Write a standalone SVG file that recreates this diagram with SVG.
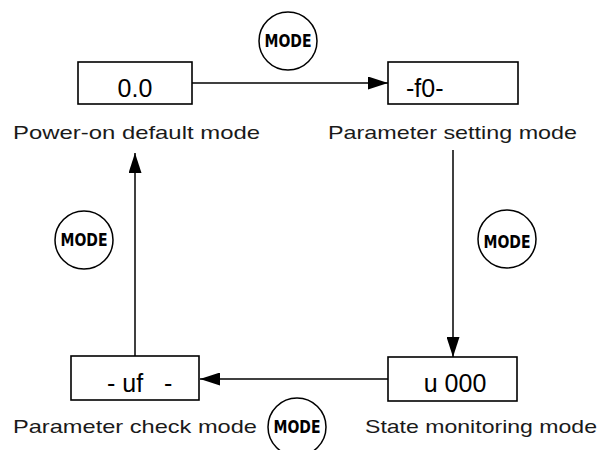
<svg xmlns="http://www.w3.org/2000/svg" width="603" height="450" viewBox="0 0 603 450">
<defs>
<style>
.box{fill:#fff;stroke:#000;stroke-width:1.6}
.disp{font-family:"Liberation Sans",Arial,sans-serif;font-size:25px;fill:#000}
.lbl{font-family:"Liberation Sans",Arial,sans-serif;font-size:19px;fill:#1a1a1a}
.btn{fill:#fff;stroke:#000;stroke-width:1.5}
.btnt{font-family:"DejaVu Sans",sans-serif;font-weight:bold;font-size:17px;fill:#000;text-anchor:middle}
.line{stroke:#000;stroke-width:1.5;fill:none}
</style>
<marker id="ah" viewBox="0 0 20 13" refX="20" refY="6.5" markerWidth="20" markerHeight="13" markerUnits="userSpaceOnUse" orient="auto">
<path d="M0,0 L20,6.5 L0,13 Z" fill="#000"/>
</marker>
</defs>
<g id="connectors">
<line class="line" x1="192" y1="83" x2="388" y2="83" marker-end="url(#ah)"/>
<line class="line" x1="453" y1="150" x2="453" y2="357" marker-end="url(#ah)"/>
<line class="line" x1="388" y1="379" x2="200" y2="379" marker-end="url(#ah)"/>
<line class="line" x1="135" y1="356" x2="135" y2="153" marker-end="url(#ah)"/>
</g>
<g id="node-poweron">
<rect class="box" x="78" y="62" width="114" height="42"/>
<text class="disp" x="135" y="97" text-anchor="middle">0.0</text>
<text class="lbl" x="13" y="139" textLength="247" lengthAdjust="spacingAndGlyphs">Power-on default mode</text>
</g>
<g id="node-setting">
<rect class="box" x="388" y="62" width="130" height="42"/>
<text class="disp" x="406" y="97">-f0-</text>
<text class="lbl" x="328" y="139" textLength="249" lengthAdjust="spacingAndGlyphs">Parameter setting mode</text>
</g>
<g id="node-monitor">
<rect class="box" x="388" y="357" width="129" height="44"/>
<text class="disp" x="455" y="392" text-anchor="middle">u 000</text>
<text class="lbl" x="365" y="433" textLength="232" lengthAdjust="spacingAndGlyphs">State monitoring mode</text>
</g>
<g id="node-check">
<rect class="box" x="71" y="356" width="128" height="44"/>
<text class="disp" x="107" y="392" xml:space="preserve">- uf   -</text>
<text class="lbl" x="13" y="433" textLength="244" lengthAdjust="spacingAndGlyphs">Parameter check mode</text>
</g>
<g id="mode-top">
<circle class="btn" cx="288" cy="41" r="29"/>
<text class="btnt" x="288" y="47" textLength="47" lengthAdjust="spacingAndGlyphs">MODE</text>
</g>
<g id="mode-right">
<circle class="btn" cx="507" cy="239" r="29"/>
<text class="btnt" x="507" y="248" textLength="47" lengthAdjust="spacingAndGlyphs">MODE</text>
</g>
<g id="mode-left">
<circle class="btn" cx="84" cy="240" r="29"/>
<text class="btnt" x="84" y="246" textLength="47" lengthAdjust="spacingAndGlyphs">MODE</text>
</g>
<g id="mode-bottom">
<circle class="btn" cx="297" cy="427" r="29"/>
<text class="btnt" x="297" y="433" textLength="47" lengthAdjust="spacingAndGlyphs">MODE</text>
</g>
</svg>
